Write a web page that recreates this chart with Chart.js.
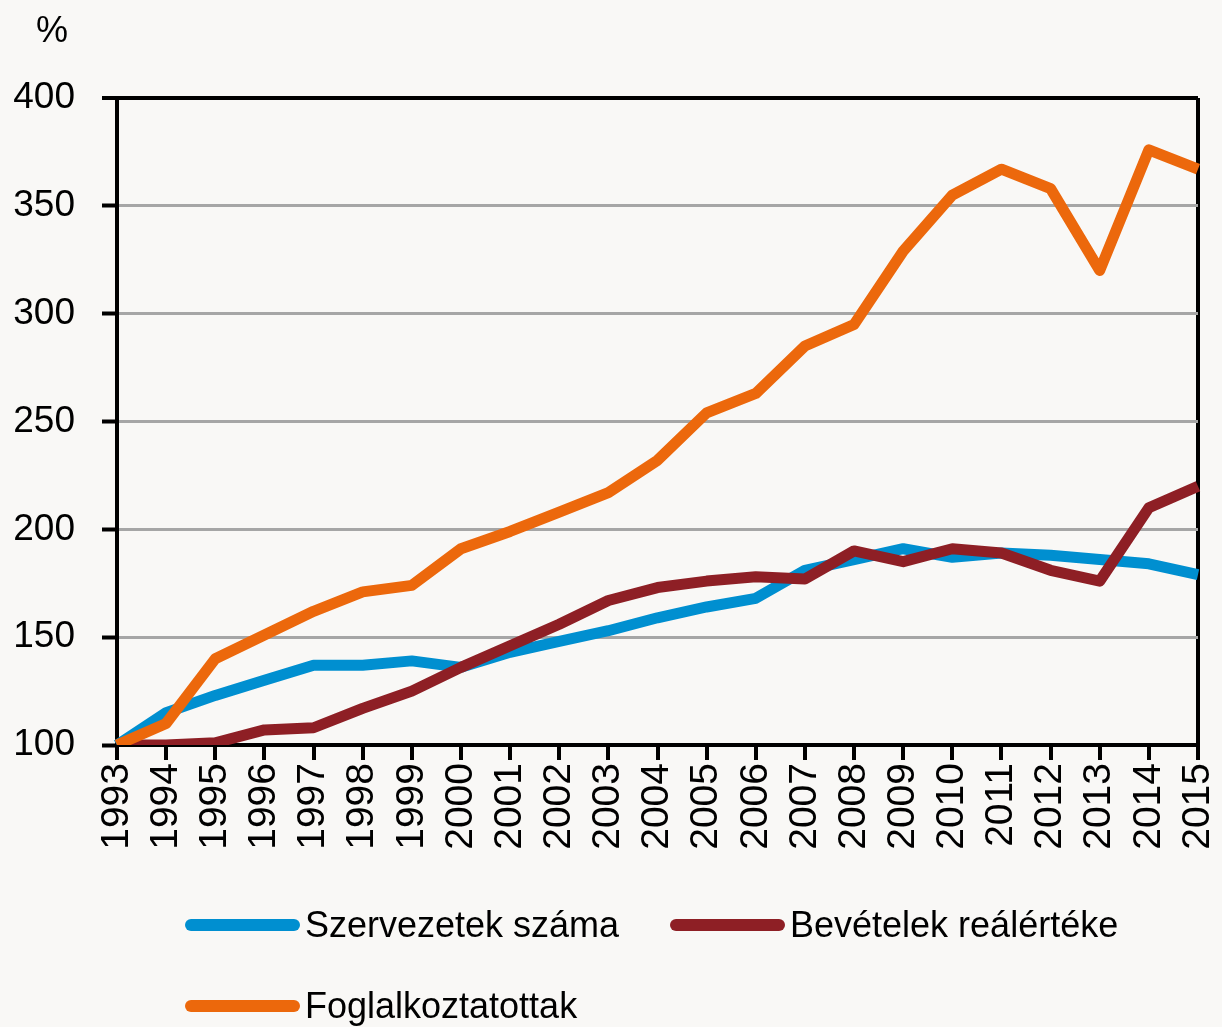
<!DOCTYPE html>
<html>
<head>
<meta charset="utf-8">
<script src="https://cdn.jsdelivr.net/npm/chart.js@4/dist/chart.umd.min.js"></script>
<style>
  body { margin: 0; background: #f9f8f6; }
  #wrap { position: relative; width: 1222px; height: 1027px; }
  #legend {
    position: absolute; left: 185px; top: 898px;
    display: grid; grid-template-columns: 485px auto; row-gap: 27px;
    font-family: 'Liberation Sans', Arial, sans-serif; font-size: 36px; color: #000;
  }
  .item { display: flex; align-items: center; height: 54px; }
  .swatch { width: 115px; height: 12px; border-radius: 6px; margin-right: 5px; }
</style>
</head>
<body>
<div id="wrap">
  <canvas id="chart" width="1222" height="1027"></canvas>
  <div id="legend"></div>
</div>
<script>
const evek = ['1993','1994','1995','1996','1997','1998','1999','2000','2001','2002','2003','2004',
              '2005','2006','2007','2008','2009','2010','2011','2012','2013','2014','2015'];
const szervezetek = [100,115,123,130,137,137,139,136,143,148,153,159,164,168,181,186,191,187,189,188,186,184,179];
const bevetelek = [100,100,101,107,108,117,125,136,146,156,167,173,176,178,177,190,185,191,189,181,176,210,220];
const foglalkoztatottak = [100,110,140,151,162,171,174,191,199,208,217,232,254,263,285,295,329,355,367,358,320,376,367];
const yTicks = [100,150,200,250,300,350,400];

const betu = "'Liberation Sans', Arial, sans-serif";

// "%" felirat a tengely fölött
const szazalekPlugin = {
    id: 'szazalek',
    afterDraw(chart) {
        const ctx = chart.ctx;
        ctx.save();
        ctx.font = '36px ' + betu;
        ctx.fillStyle = '#000';
        ctx.textAlign = 'center';
        ctx.textBaseline = 'middle';
        ctx.fillText('%', 52, 32);
        ctx.restore();
    }
};

const adatsorok = [
    { label: 'Szervezetek száma', data: szervezetek, borderColor: '#008fd0', order: 3 },
    { label: 'Bevételek reálértéke', data: bevetelek, borderColor: '#8e1f25', order: 2 },
    { label: 'Foglalkoztatottak', data: foglalkoztatottak, borderColor: '#ec680c', order: 1 }
];

const chart = new Chart(document.getElementById('chart'), {
    type: 'line',
    data: {
        labels: evek,
        datasets: adatsorok.map(d => ({
            ...d,
            backgroundColor: d.borderColor,
            borderWidth: 11,
            pointRadius: 0,
            tension: 0,
            fill: false,
            borderJoinStyle: 'round'
        }))
    },
    options: {
        responsive: false,
        animation: false,
        layout: { padding: { top: 98, right: 24, bottom: 147, left: 0 } },
        plugins: {
            legend: { display: false },
            tooltip: { enabled: false }
        },
        scales: {
            x: {
                type: 'category',
                offset: false,
                afterFit(scale) {
                    scale.height = 135;
                    scale.paddingRight = 0;
                    scale.paddingLeft = 0;
                },
                border: { color: '#000', width: 4 },
                grid: {
                    offset: false,
                    drawOnChartArea: true,
                    color: c => c.index === evek.length - 1 ? '#000' : 'rgba(0,0,0,0)',
                    lineWidth: 4,
                    tickColor: '#000',
                    tickLength: 15,
                    tickWidth: 4
                },
                ticks: {
                    autoSkip: false,
                    minRotation: 90,
                    maxRotation: 90,
                    padding: 3,
                    color: '#000',
                    font: { family: betu, size: 39 }
                }
            },
            y: {
                min: 100,
                max: 400,
                afterFit(scale) { scale.width = 117; },
                afterBuildTicks(scale) { scale.ticks = yTicks.map(v => ({ value: v })); },
                border: { color: '#000', width: 4 },
                grid: {
                    color: c => c.tick.value === 400 ? '#000' : (c.tick.value === 100 ? 'rgba(0,0,0,0)' : '#a6a6a6'),
                    lineWidth: c => c.tick.value === 400 ? 4 : 3,
                    tickColor: '#000',
                    tickLength: 15,
                    tickWidth: 4
                },
                ticks: {
                    padding: 27,
                    color: '#000',
                    font: { family: betu, size: 37 }
                }
            }
        }
    },
    plugins: [szazalekPlugin]
});

// Jelmagyarázat
const legend = document.getElementById('legend');
chart.data.datasets.forEach(ds => {
    const item = document.createElement('div');
    item.className = 'item';
    const sw = document.createElement('span');
    sw.className = 'swatch';
    sw.style.background = ds.borderColor;
    const txt = document.createElement('span');
    txt.textContent = ds.label;
    item.appendChild(sw);
    item.appendChild(txt);
    legend.appendChild(item);
});
</script>
</body>
</html>
